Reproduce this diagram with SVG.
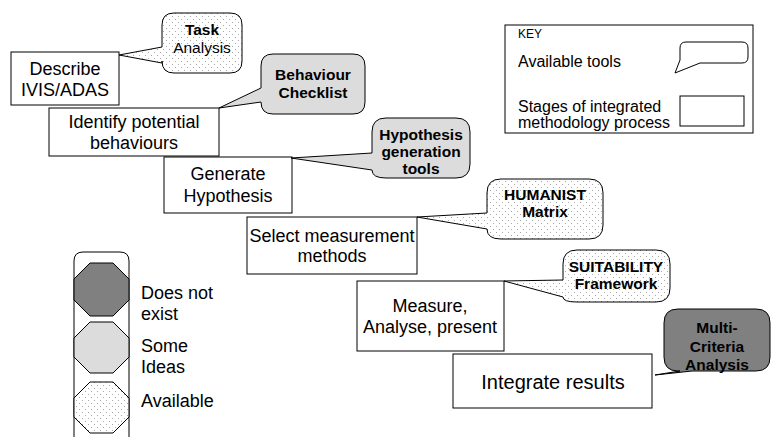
<svg xmlns="http://www.w3.org/2000/svg" width="772" height="437" viewBox="0 0 772 437">
<defs>
<pattern id="dots" width="6" height="6" patternUnits="userSpaceOnUse">
<rect width="6" height="6" fill="#ffffff"/>
<rect x="1" y="1" width="1" height="1" fill="#a8a8a8"/>
<rect x="4" y="4" width="1" height="1" fill="#a8a8a8"/>
</pattern>
<style>
.box{fill:#fff;stroke:#000;stroke-width:1}
.t{font-family:"Liberation Sans",Arial,sans-serif;font-size:18px;fill:#000;text-anchor:middle}
.tb{font-family:"Liberation Sans",Arial,sans-serif;font-size:15.5px;font-weight:bold;fill:#000;text-anchor:middle}
.tn{font-family:"Liberation Sans",Arial,sans-serif;font-size:15.5px;fill:#000;text-anchor:middle}
.k{font-family:"Liberation Sans",Arial,sans-serif;font-size:16px;fill:#000}
.lg{font-family:"Liberation Sans",Arial,sans-serif;font-size:18px;fill:#000}
.bub{stroke:#000;stroke-width:1}
.dot{fill:url(#dots)}
.lite{fill:#dcdcdc}
.dark{fill:#808080}
</style>
</defs>
<rect width="772" height="437" fill="#fff"/>

<g id="connectors"></g>

<g id="describe">
<rect class="box" x="11" y="52" width="108" height="53"/>
<text class="t" x="65" y="75">Describe</text>
<text class="t" x="65" y="96">IVIS/ADAS</text>
</g>

<g id="task-analysis">
<path class="bub dot" d="M174,13 H230 Q242,13 242,25 V61 Q242,73 230,73 H174 Q162,73 162,61 V63 L119,55 L162,47 V25 Q162,13 174,13 Z"/>
<text class="tb" x="202" y="35">Task</text>
<text class="tn" x="202" y="53">Analysis</text>
</g>

<g id="identify">
<rect class="box" x="49" y="108" width="170" height="48"/>
<text class="t" x="134" y="128">Identify potential</text>
<text class="t" x="134" y="149">behaviours</text>
</g>

<g id="behaviour-checklist">
<path class="bub lite" d="M273,54 H353 Q365,54 365,66 V102 Q365,114 353,114 H273 Q261,114 261,102 L219,108 L261,88 V66 Q261,54 273,54 Z"/>
<text class="tb" x="313" y="80">Behaviour</text>
<text class="tb" x="313" y="98">Checklist</text>
</g>

<g id="generate">
<rect class="box" x="164" y="157" width="128" height="56"/>
<text class="t" x="228" y="180">Generate</text>
<text class="t" x="228" y="202">Hypothesis</text>
</g>

<g id="hypothesis-tools">
<path class="bub lite" d="M386,118 H456 Q470,118 470,132 V164 Q470,178 456,178 H386 Q372,178 372,170 L291,158 L372,153 V132 Q372,118 386,118 Z"/>
<text class="tb" x="421" y="140">Hypothesis</text>
<text class="tb" x="421" y="157">generation</text>
<text class="tb" x="421" y="174">tools</text>
</g>

<g id="select">
<rect class="box" x="247" y="217" width="170" height="57"/>
<text class="t" x="332" y="242">Select measurement</text>
<text class="t" x="332" y="262">methods</text>
</g>

<g id="humanist">
<path class="bub dot" d="M501,179 H589 Q603,179 603,193 V225 Q603,239 589,239 H501 Q487,239 487,229 L417,217 L487,213 V193 Q487,179 501,179 Z"/>
<text class="tb" x="545" y="200">HUMANIST</text>
<text class="tb" x="545" y="217">Matrix</text>
</g>

<g id="measure">
<rect class="box" x="357" y="281" width="147" height="70"/>
<text class="t" x="430" y="312">Measure,</text>
<text class="t" x="430" y="333">Analyse, present</text>
</g>

<g id="suitability">
<path class="bub dot" d="M577,250 H656 Q670,250 670,264 V288 Q670,302 656,302 H577 Q563,302 563,297 L504,281 L563,280 V264 Q563,250 577,250 Z"/>
<text class="tb" x="616" y="272">SUITABILITY</text>
<text class="tb" x="616" y="289">Framework</text>
</g>

<g id="integrate">
<rect class="box" x="453" y="354" width="199" height="54"/>
<text class="t" x="553" y="389" style="font-size:20px">Integrate results</text>
</g>

<g id="multi-criteria">
<path class="bub dark" d="M678,309 H756 Q770,309 770,323 V357 Q770,371 756,371 H692 L655,375 L680,371 H678 Q664,371 664,357 V323 Q664,309 678,309 Z"/>
<text class="tb" x="717" y="333">Multi-</text>
<text class="tb" x="717" y="352">Criteria</text>
<text class="tb" x="717" y="370">Analysis</text>
</g>

<g id="key">
<rect class="box" x="505" y="25" width="248" height="108"/>
<text class="k" x="518" y="38" style="font-size:12px">KEY</text>
<text class="k" x="518" y="67">Available tools</text>
<path fill="#fff" stroke="#000" stroke-width="1" d="M686,42 H742 Q748,42 748,48 V57 Q748,63 742,63 H700 L675,73 L680,60 V48 Q680,42 686,42 Z"/>
<text class="k" x="518" y="112">Stages of integrated</text>
<text class="k" x="518" y="128">methodology process</text>
<rect class="box" x="680" y="96" width="64" height="30"/>
</g>

<g id="legend">
<path d="M74,437 V261 Q74,252 83,252 H120 Q129,252 129,261 V437" fill="none" stroke="#000" stroke-width="1"/>
<polygon class="dark" stroke="#000" stroke-width="1" points="90,263 113,263 129,279 129,300 113,316 90,316 74,300 74,279"/>
<polygon class="lite" stroke="#000" stroke-width="1" points="90,322 113,322 129,338 129,357 113,373 90,373 74,357 74,338"/>
<polygon class="dot" stroke="#000" stroke-width="1" points="90,382 113,382 129,398 129,417 113,433 90,433 74,417 74,398"/>
<text class="lg" x="141" y="299">Does not</text>
<text class="lg" x="141" y="320">exist</text>
<text class="lg" x="141" y="352">Some</text>
<text class="lg" x="141" y="373">Ideas</text>
<text class="lg" x="141" y="407">Available</text>
</g>
</svg>
